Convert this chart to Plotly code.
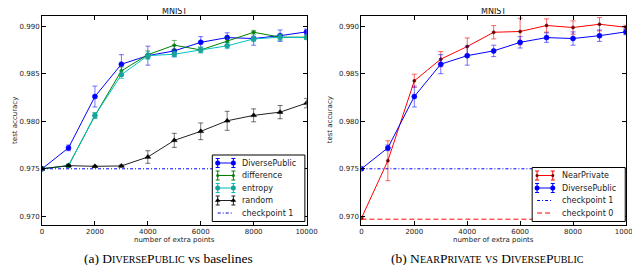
import plotly.graph_objects as go

x = [0, 1000, 2000, 3000, 4000, 5000, 6000, 7000, 8000, 9000, 10000]

diverse = [0.9750, 0.9772, 0.9826, 0.9860, 0.9869, 0.9874, 0.9883, 0.9888, 0.9887, 0.9890, 0.9894]
diverse_err = [0.0001, 0.0003, 0.0011, 0.0010, 0.0010, 0.0006, 0.0006, 0.0005, 0.0007, 0.0006, 0.0003]

difference = [0.9750, 0.97533, 0.9806, 0.9853, 0.9870, 0.9880, 0.9875, 0.9884, 0.98936, 0.98884, 0.98884]
difference_err = [0.0001, 0.0001, 0.0003, 0.0004, 0.0004, 0.0005, 0.0003, 0.0004, 0.0002, 0.0003, 0.0002]

entropy = [0.9750, 0.97533, 0.9806, 0.9849, 0.9869, 0.98705, 0.9875, 0.98793, 0.98866, 0.98884, 0.9888]
entropy_err = [0.0001, 0.0001, 0.0003, 0.0004, 0.0004, 0.0003, 0.0003, 0.0003, 0.0003, 0.0003, 0.0002]

random_ = [0.9750, 0.97533, 0.97526, 0.9753, 0.97624, 0.97799, 0.97894, 0.98005, 0.98062, 0.98096, 0.98191]
random_err = [0.0001, 0.0001, 0.0001, 0.0001, 0.00066, 0.00074, 0.00088, 0.0010, 0.00068, 0.0007, 0.0005]

near_private = [0.9698, 0.97585, 0.98425, 0.98653, 0.98786, 0.98936, 0.98944, 0.99007, 0.98986, 0.9902, 0.98989]
near_private_err = [0.0001, 0.0021, 0.0007, 0.0008, 0.0009, 0.0007, 0.0014, 0.0007, 0.0007, 0.0007, 0.0002]

checkpoint1 = 0.975
checkpoint0 = 0.9697

y_ticks = [0.970, 0.975, 0.980, 0.985, 0.990]
x_ticks = [0, 2000, 4000, 6000, 8000, 10000]

left_legend_names = ["DiversePublic", "difference", "entropy", "random", "checkpoint 1"]
right_legend_names = ["NearPrivate", "DiversePublic", "checkpoint 1", "checkpoint 0"]

BLUE = "#0000ff"
GREEN = "#008000"
CYAN = "#00bfbf"
RED = "#ff0000"
DASHDOT = "3px,2px,1px,2px"
DASHED = "5px,3px"

STYLES = {
    "DiversePublic": dict(line=BLUE, marker=BLUE, symbol="circle", msize=5, err="rgba(0,0,255,0.55)"),
    "difference": dict(line=GREEN, marker=GREEN, symbol="circle", msize=3, err="rgba(0,128,0,0.55)"),
    "entropy": dict(line=CYAN, marker="#1aa39a", symbol="circle", msize=5, err="rgba(0,191,191,0.6)"),
    "random": dict(line="#222222", marker="black", symbol="triangle-up", msize=5, err="rgba(0,0,0,0.55)"),
    "NearPrivate": dict(line=RED, marker="#6b0000", symbol="circle", msize=3, err="rgba(255,0,0,0.6)"),
    "checkpoint 1": dict(line=BLUE, dash=DASHDOT),
    "checkpoint 0": dict(line=RED, dash=DASHED),
}

fig = go.Figure()


def add_series(ys, err, name, xa, ya):
    s = STYLES[name]
    fig.add_trace(go.Scatter(
        x=x, y=ys, mode="lines+markers", name=name, showlegend=False,
        line=dict(color=s["line"], width=1),
        marker=dict(symbol=s["symbol"], size=s["msize"], color=s["marker"],
                    line=dict(width=0.6, color=s["marker"])),
        error_y=dict(type="data", array=err, visible=True,
                     color=s["err"], thickness=1, width=2.5),
        xaxis=xa, yaxis=ya,
    ))


def add_hline(value, name, xa, ya):
    s = STYLES[name]
    fig.add_trace(go.Scatter(
        x=[x[0], x[-1]], y=[value, value], mode="lines", name=name, showlegend=False,
        line=dict(color=s["line"], width=1, dash=s["dash"]), xaxis=xa, yaxis=ya))


# Left panel
add_series(diverse, diverse_err, "DiversePublic", "x", "y")
add_series(difference, difference_err, "difference", "x", "y")
add_series(entropy, entropy_err, "entropy", "x", "y")
add_series(random_, random_err, "random", "x", "y")
add_hline(checkpoint1, "checkpoint 1", "x", "y")

# Right panel
add_series(near_private, near_private_err, "NearPrivate", "x2", "y2")
add_series(diverse, diverse_err, "DiversePublic", "x2", "y2")
add_hline(checkpoint1, "checkpoint 1", "x2", "y2")
add_hline(checkpoint0, "checkpoint 0", "x2", "y2")

W, H = 640, 265
ytop, ybot = 8, 216.7
left_dom = [32.7 / W, 302.7 / W]
right_dom = [358.7 / W, 628.7 / W]
ydom = [1 - ybot / H, 1 - ytop / H]

tickfont = dict(family="DejaVu Sans", size=7, color="#222222")
axis_common = dict(showline=True, linecolor="black", linewidth=1, mirror="allticks",
                   ticks="inside", ticklen=4, tickcolor="black", showgrid=False,
                   zeroline=False, tickfont=tickfont)

# Legend boxes drawn manually (pixel overlay axis) to match the compact matplotlib legend
annotations = []
legend_font = dict(family="DejaVu Sans", size=8, color="#222222")


def draw_legend(names, box, row_y0, sym_x0, sym_x1, text_x):
    bx0, by0, bx1, by1 = box
    fig.add_trace(go.Scatter(
        x=[bx0, bx1, bx1, bx0, bx0], y=[by0, by0, by1, by1, by0], mode="lines",
        fill="toself", fillcolor="white", line=dict(color="black", width=1),
        showlegend=False, hoverinfo="skip", xaxis="x3", yaxis="y3"))
    for i, name in enumerate(names):
        yy = row_y0 + i * 12.5
        s = STYLES[name]
        if "dash" in s:
            fig.add_trace(go.Scatter(
                x=[sym_x0, sym_x1], y=[yy, yy], mode="lines",
                line=dict(color=s["line"], width=1, dash=s["dash"]),
                showlegend=False, hoverinfo="skip", xaxis="x3", yaxis="y3"))
        else:
            fig.add_trace(go.Scatter(
                x=[sym_x0, sym_x1], y=[yy, yy], mode="lines+markers",
                line=dict(color=s["line"], width=1),
                marker=dict(symbol=s["symbol"], size=s["msize"], color=s["marker"]),
                error_y=dict(type="constant", value=4.5, color=s["line"], thickness=1, width=2),
                showlegend=False, hoverinfo="skip", xaxis="x3", yaxis="y3", cliponaxis=False))
        annotations.append(dict(x=text_x, y=yy, xref="x3", yref="y3", text=name,
                                showarrow=False, font=legend_font,
                                xanchor="left", yanchor="middle"))


draw_legend(left_legend_names, (206.5, 147, 301, 213.5), 155, 212, 228, 235)
draw_legend(right_legend_names, (533, 159.5, 628, 213.5), 167.5, 538, 554, 561)

fig.update_layout(
    width=W, height=H, margin=dict(l=0, r=0, t=0, b=0),
    paper_bgcolor="white", plot_bgcolor="rgba(0,0,0,0)",
    showlegend=False,
    xaxis=dict(domain=left_dom, range=[0, 10000], tickvals=x_ticks,
               ticktext=[str(v) for v in x_ticks], anchor="y", **axis_common),
    yaxis=dict(domain=ydom, range=[0.96912, 0.99107], tickvals=y_ticks,
               ticktext=["%.3f" % v for v in y_ticks], anchor="x", **axis_common),
    xaxis2=dict(domain=right_dom, range=[0, 10000], tickvals=x_ticks,
                ticktext=[str(v) for v in x_ticks], anchor="y2", **axis_common),
    yaxis2=dict(domain=ydom, range=[0.96912, 0.99107], tickvals=y_ticks,
                ticktext=["%.3f" % v for v in y_ticks], anchor="x2", **axis_common),
    xaxis3=dict(domain=[0, 1], range=[0, W], visible=False, fixedrange=True, anchor="y3"),
    yaxis3=dict(domain=[0, 1], range=[H, 0], visible=False, fixedrange=True, anchor="x3"),
)

label_font = dict(family="DejaVu Sans", size=7, color="#222222")
SC = "<span style='font-size:10px'>%s</span>"
captions = [
    "(a) D" + SC % "IVERSE" + "P" + SC % "UBLIC" + " vs baselines",
    "(b) N" + SC % "EAR" + "P" + SC % "RIVATE" + " " + SC % "VS" + " D" + SC % "IVERSE" + "P" + SC % "UBLIC",
]
for cx, cap in [((left_dom[0] + left_dom[1]) / 2, captions[0]),
                ((right_dom[0] + right_dom[1]) / 2, captions[1])]:
    annotations.append(dict(x=cx, y=1 - 4 / H, xref="paper", yref="paper", text="MNIST",
                            showarrow=False, font=dict(family="DejaVu Sans", size=8, color="#111111"),
                            xanchor="center", yanchor="middle"))
    annotations.append(dict(x=cx, y=1 - 232 / H, xref="paper", yref="paper",
                            text="number of extra points", showarrow=False, font=label_font,
                            xanchor="center", yanchor="middle"))
    annotations.append(dict(x=cx - 6 / W, y=1 - 250.5 / H, xref="paper", yref="paper",
                            text=cap, showarrow=False,
                            font=dict(family="Liberation Serif", size=13.5, color="black"),
                            xanchor="center", yanchor="middle"))
for ax_x in [5, 327]:
    annotations.append(dict(x=ax_x / W, y=1 - 112 / H, xref="paper", yref="paper",
                            text="test accuracy", showarrow=False, font=label_font,
                            textangle=-90, xanchor="center", yanchor="middle"))
fig.update_layout(annotations=annotations)

fig.write_html("out.html")
